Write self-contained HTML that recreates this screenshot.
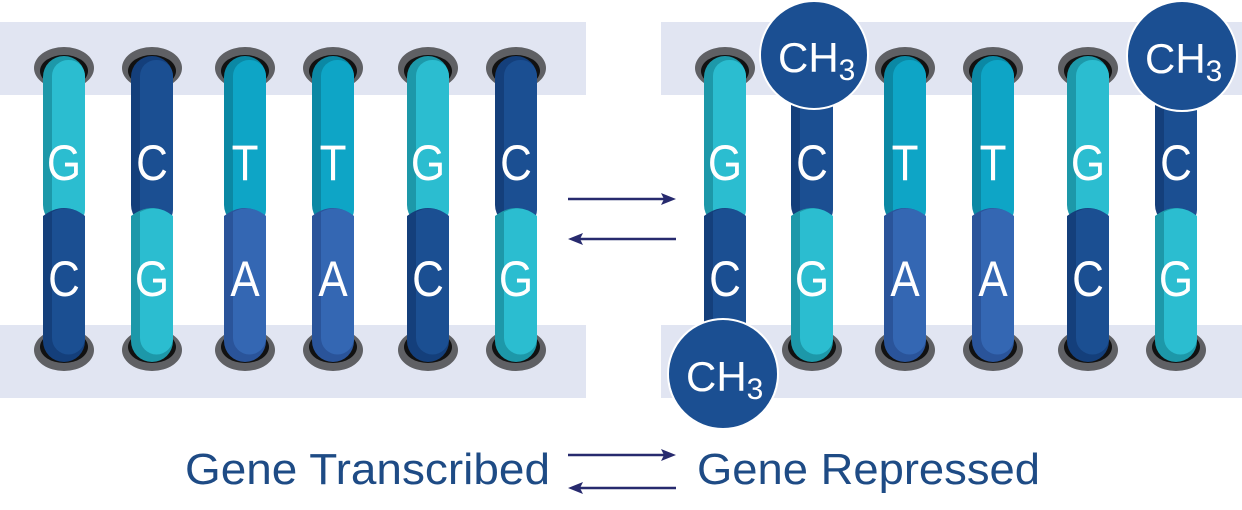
<!DOCTYPE html>
<html><head><meta charset="utf-8"><style>
html,body{margin:0;padding:0;background:#fff;}
svg{display:block;}
text{font-family:"Liberation Sans",sans-serif;}
</style></head><body>
<svg width="1242" height="510" viewBox="0 0 1242 510" xmlns="http://www.w3.org/2000/svg">
<defs>
<g id="capT"><ellipse cx="0" cy="68" rx="30" ry="21" fill="#5f6064"/><ellipse cx="0" cy="71" rx="24" ry="16" fill="#111"/></g>
<g id="capB"><ellipse cx="0" cy="350" rx="30" ry="21" fill="#5f6064"/><ellipse cx="0" cy="347" rx="24" ry="16" fill="#111"/></g>
<g id="G_t"><rect x="-21" y="56" width="42" height="170" rx="21" fill="#1d98a9"/><rect x="-12" y="60" width="33" height="166" rx="16" fill="#2bbdd0"/></g>
<g id="C_t"><rect x="-21" y="56" width="42" height="170" rx="21" fill="#143f7b"/><rect x="-12" y="60" width="33" height="166" rx="16" fill="#1b4f92"/></g>
<g id="T_t"><rect x="-21" y="56" width="42" height="170" rx="21" fill="#0b88a4"/><rect x="-12" y="60" width="33" height="166" rx="16" fill="#0ea5c6"/></g>
<g id="G_b"><path d="M-21,216 Q0,200 21,216 V341 A21 21 0 0 1 -21 341 Z" fill="#1d98a9"/><path d="M-12,212 Q5,203 21,216 V338 A16 16 0 0 1 -12 338 Z" fill="#2bbdd0"/></g>
<g id="C_b"><path d="M-21,216 Q0,200 21,216 V341 A21 21 0 0 1 -21 341 Z" fill="#143f7b"/><path d="M-12,212 Q5,203 21,216 V338 A16 16 0 0 1 -12 338 Z" fill="#1b4f92"/></g>
<g id="A_b"><path d="M-21,216 Q0,200 21,216 V341 A21 21 0 0 1 -21 341 Z" fill="#2a549a"/><path d="M-12,212 Q5,203 21,216 V338 A16 16 0 0 1 -12 338 Z" fill="#3467b3"/></g>
</defs>
<rect x="0" y="22" width="586" height="73" fill="#e1e5f2"/>
<rect x="0" y="325" width="586" height="73" fill="#e1e5f2"/>
<rect x="661" y="22" width="581" height="73" fill="#e1e5f2"/>
<rect x="661" y="325" width="581" height="73" fill="#e1e5f2"/>

<g font-size="50" fill="#fff" text-anchor="middle">
<g transform="translate(64,0)"><use href="#capT"/><use href="#capB"/><use href="#G_t"/><use href="#C_b"/><text y="180" transform="scale(0.88,1)">G</text><text y="296" transform="scale(0.88,1)">C</text></g>
<g transform="translate(152,0)"><use href="#capT"/><use href="#capB"/><use href="#C_t"/><use href="#G_b"/><text y="180" transform="scale(0.88,1)">C</text><text y="296" transform="scale(0.88,1)">G</text></g>
<g transform="translate(245,0)"><use href="#capT"/><use href="#capB"/><use href="#T_t"/><use href="#A_b"/><text y="180" transform="scale(0.88,1)">T</text><text y="296" transform="scale(0.88,1)">A</text></g>
<g transform="translate(333,0)"><use href="#capT"/><use href="#capB"/><use href="#T_t"/><use href="#A_b"/><text y="180" transform="scale(0.88,1)">T</text><text y="296" transform="scale(0.88,1)">A</text></g>
<g transform="translate(428,0)"><use href="#capT"/><use href="#capB"/><use href="#G_t"/><use href="#C_b"/><text y="180" transform="scale(0.88,1)">G</text><text y="296" transform="scale(0.88,1)">C</text></g>
<g transform="translate(516,0)"><use href="#capT"/><use href="#capB"/><use href="#C_t"/><use href="#G_b"/><text y="180" transform="scale(0.88,1)">C</text><text y="296" transform="scale(0.88,1)">G</text></g>
<g transform="translate(725,0)"><use href="#capT"/><use href="#capB"/><use href="#G_t"/><use href="#C_b"/><text y="180" transform="scale(0.88,1)">G</text><text y="296" transform="scale(0.88,1)">C</text></g>
<g transform="translate(812,0)"><use href="#capT"/><use href="#capB"/><use href="#C_t"/><use href="#G_b"/><text y="180" transform="scale(0.88,1)">C</text><text y="296" transform="scale(0.88,1)">G</text></g>
<g transform="translate(905,0)"><use href="#capT"/><use href="#capB"/><use href="#T_t"/><use href="#A_b"/><text y="180" transform="scale(0.88,1)">T</text><text y="296" transform="scale(0.88,1)">A</text></g>
<g transform="translate(993,0)"><use href="#capT"/><use href="#capB"/><use href="#T_t"/><use href="#A_b"/><text y="180" transform="scale(0.88,1)">T</text><text y="296" transform="scale(0.88,1)">A</text></g>
<g transform="translate(1088,0)"><use href="#capT"/><use href="#capB"/><use href="#G_t"/><use href="#C_b"/><text y="180" transform="scale(0.88,1)">G</text><text y="296" transform="scale(0.88,1)">C</text></g>
<g transform="translate(1176,0)"><use href="#capT"/><use href="#capB"/><use href="#C_t"/><use href="#G_b"/><text y="180" transform="scale(0.88,1)">C</text><text y="296" transform="scale(0.88,1)">G</text></g>
</g>

<g fill="#1b4f92" stroke="#fff" stroke-width="2">
<circle cx="814" cy="55" r="54"/>
<circle cx="1182" cy="56" r="55"/>
<circle cx="723" cy="374" r="55"/>
</g>
<g fill="#fff" font-size="42">
<text x="778" y="72">CH<tspan font-size="30" dy="8">3</tspan></text>
<text x="1145" y="73">CH<tspan font-size="30" dy="8">3</tspan></text>
<text x="686" y="391">CH<tspan font-size="30" dy="8">3</tspan></text>
</g>

<g stroke="#272a6e" stroke-width="2.5">
<line x1="568" y1="199" x2="664" y2="199"/>
<line x1="580" y1="239" x2="676" y2="239"/>
<line x1="568" y1="455" x2="664" y2="455"/>
<line x1="580" y1="488" x2="676" y2="488"/>
</g>
<g fill="#272a6e">
<polygon points="676,199 661,193 664,199 661,205"/>
<polygon points="568,239 583,233 580,239 583,245"/>
<polygon points="676,455 661,449 664,455 661,461"/>
<polygon points="568,488 583,482 580,488 583,494"/>
</g>

<g fill="#1e4b85" font-size="44">
<text x="185" y="484" textLength="365" lengthAdjust="spacingAndGlyphs">Gene Transcribed</text>
<text x="697" y="484" textLength="343" lengthAdjust="spacingAndGlyphs">Gene Repressed</text>
</g>
</svg>
</body></html>
